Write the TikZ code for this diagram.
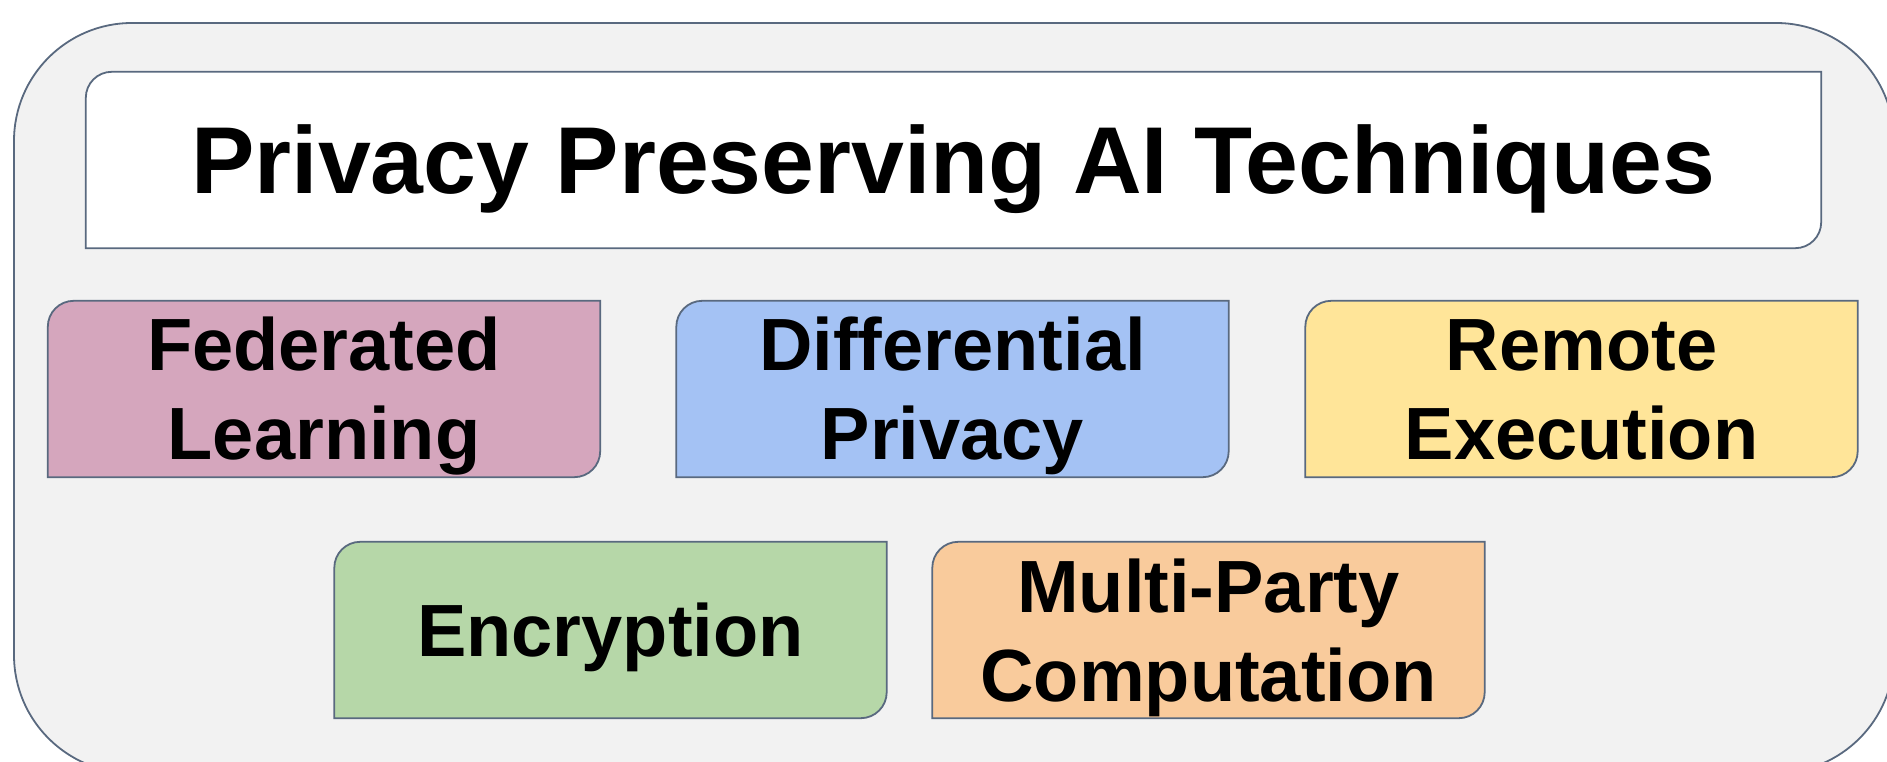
\documentclass[tikz,border=0pt]{standalone}
\usepackage{fontspec}
\setmainfont{Liberation Sans}
\usetikzlibrary{backgrounds}

\definecolor{edgecol}{HTML}{59697F}
\definecolor{panelfill}{HTML}{F2F2F2}
\definecolor{pinkfill}{HTML}{D5A6BD}
\definecolor{bluefill}{HTML}{A4C2F4}
\definecolor{yellowfill}{HTML}{FFE599}
\definecolor{greenfill}{HTML}{B6D7A8}
\definecolor{orangefill}{HTML}{F9CB9C}

% two centred lines whose baseline is the first line
\newcommand\stacked[2]{\vtop{\halign{\hfil##\hfil\cr#1\cr#2\cr}}}

\tikzset{
  edgeline/.style={draw=edgecol, line width=1.8pt},
  heading/.style={minimum width=1735pt, minimum height=176pt, inner sep=0pt,
    font=\bfseries\fontsize{95}{114}\selectfont, text height=68pt, text depth=0pt},
  card/.style={minimum width=552pt, minimum height=176pt, inner sep=0pt,
    font=\bfseries\fontsize{74}{89}\selectfont, text height=53pt, text depth=0pt},
  twoline/.style={text depth=89pt},
  % box with rounded top-left and bottom-right corners
  cardshape/.style={insert path={
    (#1.south west) -- ([yshift=-26pt]#1.north west)
    arc[start angle=180, end angle=90, radius=26pt]
    -- (#1.north east) -- ([yshift=26pt]#1.south east)
    arc[start angle=0, end angle=-90, radius=26pt] -- cycle}}
}

\begin{document}
\begin{tikzpicture}[x=1pt, y=1pt]
\useasboundingbox (0,0) rectangle (1887,761);

\node[heading] (head) at (953.5,601) {Privacy Preserving AI Techniques};

\node[card, twoline] (fed)    at (324,372)    {\stacked{Federated}{Learning}};
\node[card, twoline] (dp)     at (952.5,372)  {\stacked{Differential}{Privacy}};
\node[card, twoline] (remote) at (1581.5,372) {\stacked{Remote}{Execution}};
\node[card]          (enc)    at (610.5,131)  {Encryption};
\node[card, twoline] (mpc)    at (1208.5,131) {\stacked{Multi-Party}{Computation}};

\begin{scope}[on background layer]
  \clip (0,0) rectangle (1887,761);
  \draw[edgeline, fill=panelfill, rounded corners=118pt] (14,-12) rectangle (1894,738);
  \draw[edgeline, fill=white,      cardshape=head];
  \draw[edgeline, fill=pinkfill,   cardshape=fed];
  \draw[edgeline, fill=bluefill,   cardshape=dp];
  \draw[edgeline, fill=yellowfill, cardshape=remote];
  \draw[edgeline, fill=greenfill,  cardshape=enc];
  \draw[edgeline, fill=orangefill, cardshape=mpc];
\end{scope}
\end{tikzpicture}
\end{document}
